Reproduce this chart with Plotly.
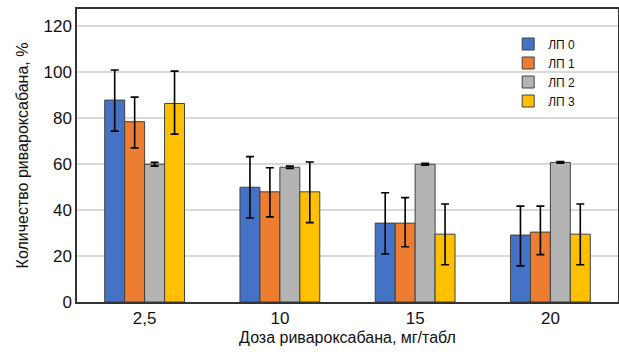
import plotly.graph_objects as go

categories = ["2,5", "10", "15", "20"]
series_names = ["ЛП 0", "ЛП 1", "ЛП 2", "ЛП 3"]
colors = ["#4472C4", "#ED7D31", "#B4B4B4", "#FFC000"]

values = {
    "ЛП 0": [87.8, 49.9, 34.3, 29.1],
    "ЛП 1": [78.4, 47.9, 34.3, 30.4],
    "ЛП 2": [59.9, 58.6, 59.9, 60.7],
    "ЛП 3": [86.3, 47.9, 29.5, 29.5],
}
err_plus = {
    "ЛП 0": [13.1, 13.3, 13.2, 12.6],
    "ЛП 1": [10.7, 10.5, 11.1, 11.3],
    "ЛП 2": [0.8, 0.5, 0.4, 0.4],
    "ЛП 3": [14.1, 13.0, 13.1, 13.1],
}
err_minus = {
    "ЛП 0": [13.5, 13.4, 13.4, 13.4],
    "ЛП 1": [11.4, 10.9, 10.3, 9.8],
    "ЛП 2": [0.8, 0.5, 0.4, 0.4],
    "ЛП 3": [13.3, 13.4, 13.3, 13.3],
}

fig = go.Figure()
for name, color in zip(series_names, colors):
    fig.add_trace(go.Bar(
        name=name, x=categories, y=values[name],
        marker=dict(color=color, line=dict(color="#404040", width=1)),
        error_y=dict(type="data", symmetric=False, array=err_plus[name],
                     arrayminus=err_minus[name], color="black",
                     thickness=1.6, width=4),
    ))

font_family = "Liberation Sans, Arial, sans-serif"
fig.update_layout(
    width=619, height=362, autosize=False,
    margin=dict(l=77, r=1, t=9, b=60),
    barmode="group", bargap=0.41, bargroupgap=0,
    plot_bgcolor="white", paper_bgcolor="white",
    font=dict(family=font_family, color="#111111"),
    showlegend=True,
    legend=dict(x=0.797, y=0.93, xanchor="left", yanchor="top",
                font=dict(size=12, color="#111111"), bgcolor="rgba(0,0,0,0)",
                tracegroupgap=0, itemwidth=30),
    xaxis=dict(
        automargin=False,
        showline=True, linecolor="#333333", linewidth=1.5, mirror=True,
        ticks="", tickfont=dict(size=17),
        title=dict(text="Доза ривароксабана, мг/табл", font=dict(size=16), standoff=5),
    ),
    yaxis=dict(
        automargin=False,
        range=[0, 127.4], dtick=20, tick0=0,
        showline=True, linecolor="#333333", linewidth=1.5, mirror=True,
        showgrid=True, gridcolor="#D9D9D9", gridwidth=1.5,
        ticks="", tickfont=dict(size=17),
        title=dict(text="Количество ривароксабана, %", font=dict(size=16), standoff=11),
        zeroline=False,
    ),
)

fig.write_html("out.html",
               config={"displayModeBar": False, "responsive": False},
               post_script="document.body.style.margin='0';document.body.style.overflow='hidden';")
